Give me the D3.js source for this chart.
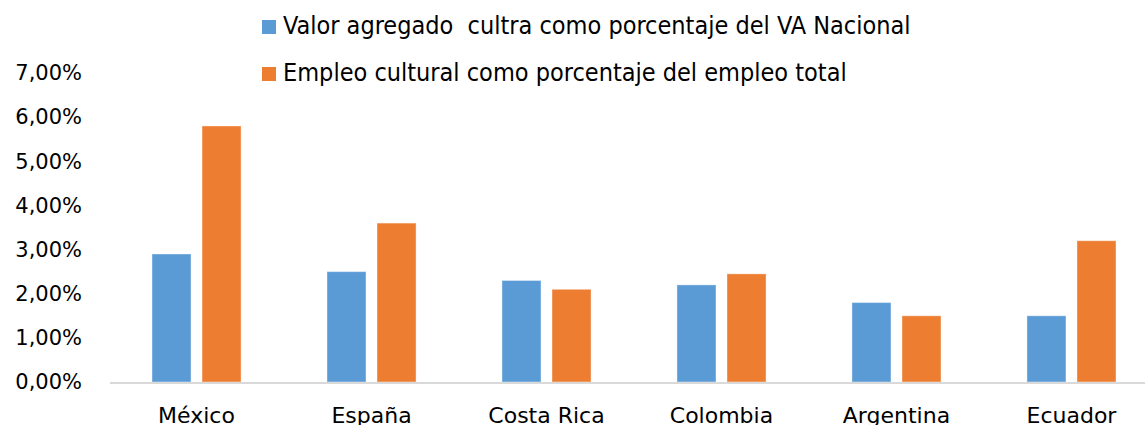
<!DOCTYPE html>
<html>
<head>
    <meta charset="utf-8">
    <title>Valor agregado y empleo cultural</title>
    <script src="https://d3js.org/d3.v7.min.js"></script>
    <style>
        body { margin: 0; background: white; }
        .tick-label { font-family: "DejaVu Sans", sans-serif; font-size: 21px; fill: #000; }
        .cat-label { font-family: "DejaVu Sans", sans-serif; font-size: 22px; fill: #000; }
        .legend text { font-family: "Liberation Sans Narrow", "DejaVu Sans Condensed", sans-serif; font-size: 25px; fill: #000; white-space: pre; }
    </style>
</head>
<body>
<div id="chart"></div>
<script>
const countries = ["México", "España", "Costa Rica", "Colombia", "Argentina", "Ecuador"];
const seriesNames = [
  "Valor agregado  cultra como porcentaje del VA Nacional",
  "Empleo cultural como porcentaje del empleo total"
];
const valorAgregado = [2.9, 2.5, 2.3, 2.2, 1.8, 1.5];
const empleoCultural = [5.8, 3.6, 2.1, 2.45, 1.5, 3.2];
const yTicks = [0, 1, 2, 3, 4, 5, 6, 7];
const colors = ["#5b9bd5", "#ed7d31"];

const width = 1145, height = 425;
const svg = d3.select("#chart").append("svg")
    .attr("width", width).attr("height", height);

const y = d3.scaleLinear().domain([0, 7]).range([382, 73]);

const x0 = d3.scaleBand()
    .domain(countries)
    .range([109, 1159])
    .paddingInner(0.491)
    .paddingOuter(0.2457);

const x1 = d3.scaleBand()
    .domain([0, 1])
    .range([0, x0.bandwidth()])
    .paddingInner(0.22);

const data = countries.map((c, i) => ({ country: c, values: [valorAgregado[i], empleoCultural[i]] }));

// y tick labels
svg.append("g").selectAll("text")
    .data(yTicks)
    .join("text")
    .attr("class", "tick-label")
    .attr("x", 82)
    .attr("y", d => y(d))
    .attr("dy", "0.35em")
    .attr("text-anchor", "end")
    .text(d => d.toFixed(2).replace(".", ",") + "%");

// bars
const groups = svg.append("g").selectAll("g")
    .data(data)
    .join("g")
    .attr("transform", d => `translate(${x0(d.country)},0)`);

groups.selectAll("rect")
    .data(d => d.values.map((v, k) => ({ k, v })))
    .join("rect")
    .attr("x", d => x1(d.k))
    .attr("y", d => y(d.v))
    .attr("width", x1.bandwidth())
    .attr("height", d => y(0) - y(d.v))
    .attr("fill", d => colors[d.k])
    .attr("stroke", "rgba(255,255,255,0.4)")
    .attr("stroke-width", 1);

// baseline
svg.append("line")
    .attr("x1", 110).attr("x2", width)
    .attr("y1", y(0) + 1).attr("y2", y(0) + 1)
    .attr("stroke", "#d9d9d9")
    .attr("stroke-width", 2);

// category labels (cut at the bottom edge, as in the original)
svg.append("g").selectAll("text")
    .data(countries)
    .join("text")
    .attr("class", "cat-label")
    .attr("x", d => x0(d) + x0.bandwidth() / 2)
    .attr("y", 423)
    .attr("text-anchor", "middle")
    .text(d => d);

// legend
const legend = svg.append("g").attr("class", "legend");
const legendRows = legend.selectAll("g")
    .data(seriesNames)
    .join("g")
    .attr("transform", (d, i) => `translate(262,${20 + i * 47})`);
legendRows.append("rect")
    .attr("width", 14).attr("height", 14)
    .attr("fill", (d, i) => colors[i]);
legendRows.append("text")
    .attr("x", 21)
    .attr("y", 14)
    .text(d => d);
</script>
</body>
</html>
